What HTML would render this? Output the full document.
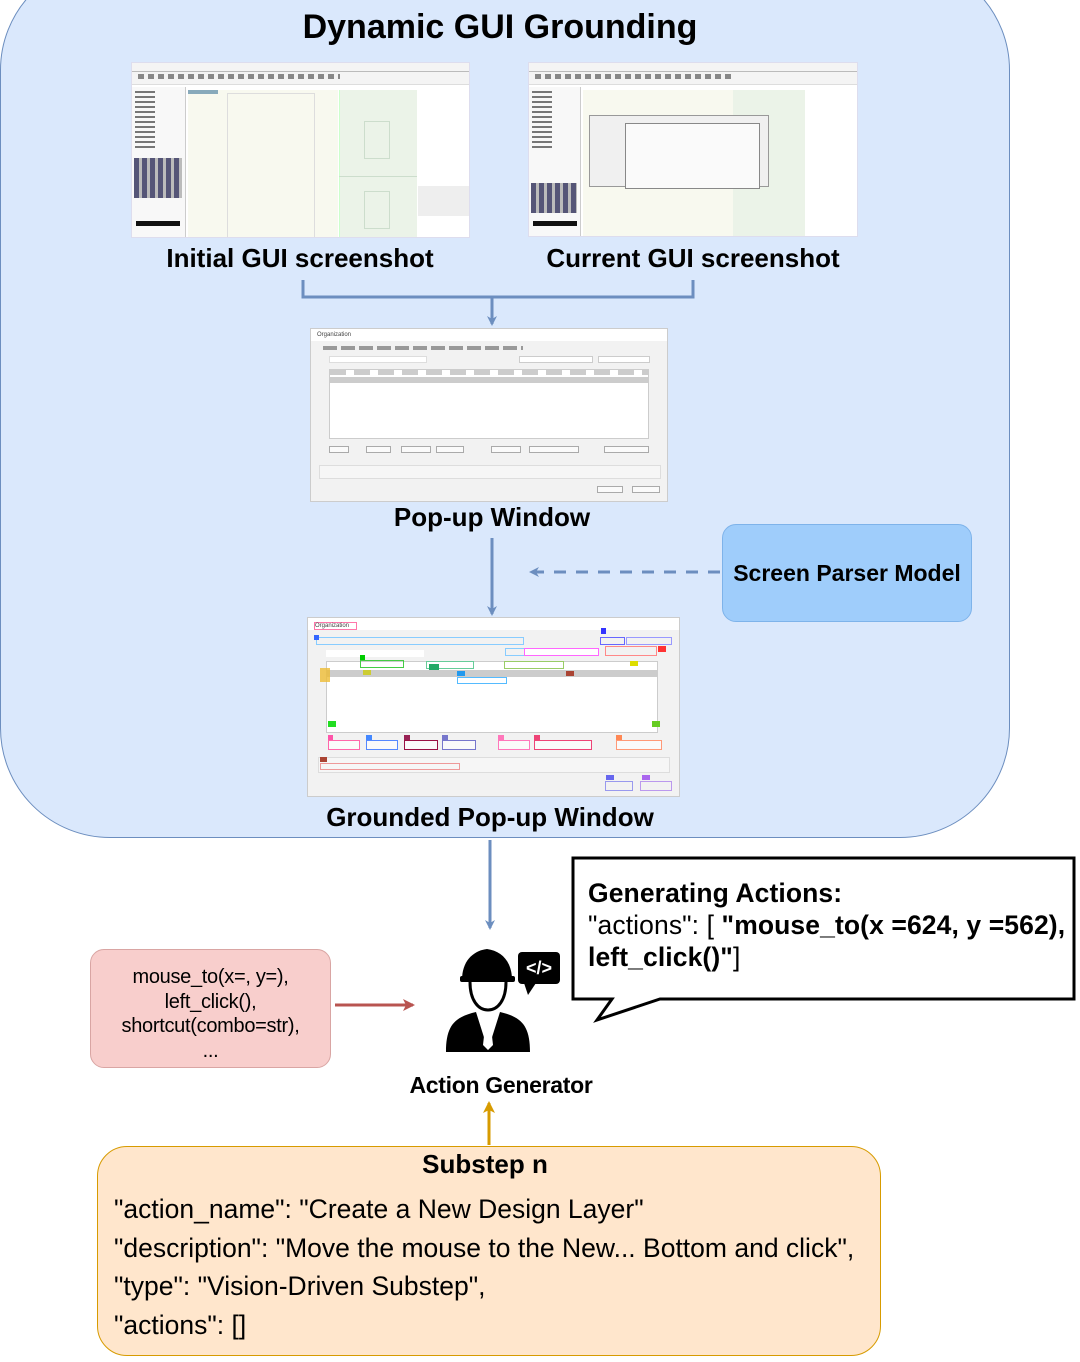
<!DOCTYPE html>
<html><head><meta charset="utf-8">
<style>
*{margin:0;padding:0;box-sizing:border-box}
body{width:1080px;height:1362px;background:#fff;position:relative;overflow:hidden;font-family:"Liberation Sans",Arial,sans-serif;color:#000}
.abs{position:absolute}
.lbl{position:absolute;font-weight:bold;white-space:nowrap;text-align:center;transform:translateX(-50%)}
.ss{position:absolute;background:#fff;overflow:hidden;border:1px solid #dde}
.ss div{position:absolute}
.pop{position:absolute;background:#f2f2f2;border:1px solid #ccc;overflow:hidden}
.pop div{position:absolute}
.btn{background:#fafafa;border:1px solid #aaa;height:7px}
</style></head><body>

<div class="abs" style="left:0;top:-40px;width:1010px;height:878px;background:#dae8fc;border:1px solid #6c8ebf;border-radius:110px"></div>

<div class="lbl" style="left:500px;top:8px;font-size:34px">Dynamic GUI Grounding</div>

<div class="ss" style="left:131px;top:62px;width:339px;height:176px">
  <div style="left:0;top:0;width:100%;height:22px;background:#f4f4f4;border-bottom:1px solid #ddd"></div>
  <div style="left:0;top:8px;width:100%;height:1px;background:#bbb"></div>
  <div style="left:6px;top:11px;width:60%;height:5px;background:repeating-linear-gradient(90deg,#888 0 6px,transparent 6px 10px)"></div>
  <div style="left:0;top:24px;width:54px;height:152px;background:#f8f8f8;border-right:1px solid #ccc"></div>
  <div style="left:3px;top:28px;width:20px;height:60px;background:repeating-linear-gradient(180deg,#777 0 2px,transparent 2px 5px)"></div>
  <div style="left:2px;top:95px;width:48px;height:40px;background:repeating-linear-gradient(90deg,#557 0 5px,#bbb 5px 8px)"></div>
  <div style="left:4px;top:158px;width:44px;height:5px;background:#111"></div>
  <div style="left:56px;top:27px;width:150px;height:149px;background:#f8f9ef"></div>
  <div style="left:56px;top:27px;width:30px;height:4px;background:#8ab"></div>
  <div style="left:95px;top:30px;width:88px;height:146px;border:1px solid #ddd"></div>
  <div style="left:207px;top:27px;width:78px;height:149px;background:#ebf3e8;border-left:1px solid #cfc"></div>
  <div style="left:207px;top:113px;width:78px;height:1px;background:#cdc"></div>
  <div style="left:232px;top:58px;width:26px;height:38px;border:1px solid #cdc"></div>
  <div style="left:232px;top:128px;width:26px;height:38px;border:1px solid #cdc"></div>
  <div style="left:286px;top:27px;width:53px;height:149px;background:#fff"></div>
  <div style="left:286px;top:123px;width:53px;height:30px;background:#eee"></div>
</div>

<div class="ss" style="left:528px;top:62px;width:330px;height:175px">
  <div style="left:0;top:0;width:100%;height:22px;background:#f4f4f4;border-bottom:1px solid #ddd"></div>
  <div style="left:0;top:8px;width:100%;height:1px;background:#bbb"></div>
  <div style="left:6px;top:11px;width:60%;height:5px;background:repeating-linear-gradient(90deg,#888 0 6px,transparent 6px 10px)"></div>
  <div style="left:0;top:24px;width:52px;height:151px;background:#f8f8f8;border-right:1px solid #ccc"></div>
  <div style="left:3px;top:28px;width:20px;height:60px;background:repeating-linear-gradient(180deg,#777 0 2px,transparent 2px 5px)"></div>
  <div style="left:2px;top:120px;width:46px;height:30px;background:repeating-linear-gradient(90deg,#557 0 5px,#bbb 5px 8px)"></div>
  <div style="left:4px;top:158px;width:44px;height:5px;background:#111"></div>
  <div style="left:54px;top:27px;width:150px;height:148px;background:#f8f9ef"></div>
  <div style="left:204px;top:27px;width:72px;height:148px;background:#ebf3e8"></div>
  <div style="left:276px;top:27px;width:54px;height:148px;background:#fff"></div>
  <div style="left:60px;top:52px;width:180px;height:72px;background:#f0f0f0;border:1px solid #999"></div>
  <div style="left:96px;top:60px;width:135px;height:66px;background:#fafafa;border:1px solid #888"></div>
</div>

<div class="lbl" style="left:300px;top:243px;font-size:26px">Initial GUI screenshot</div>
<div class="lbl" style="left:693px;top:243px;font-size:26px">Current GUI screenshot</div>

<svg class="abs" style="left:0;top:0" width="1080" height="1362">
  <defs>
    <marker id="ab" markerWidth="10" markerHeight="10" refX="8" refY="5" orient="auto" markerUnits="userSpaceOnUse"><path d="M0,0 L10,5 L0,10 L3,5z" fill="#6c8ebf"/></marker>
    <marker id="ar" markerWidth="12" markerHeight="12" refX="10" refY="6" orient="auto" markerUnits="userSpaceOnUse"><path d="M0,0 L12,6 L0,12 L3,6z" fill="#b85450"/></marker>
    <marker id="ao" markerWidth="12" markerHeight="12" refX="10" refY="6" orient="auto" markerUnits="userSpaceOnUse"><path d="M0,0 L12,6 L0,12 L3,6z" fill="#d79b00"/></marker>
  </defs>
  <g stroke="#6c8ebf" stroke-width="3" fill="none">
    <path d="M303,280 V297 H693 V280"/>
    <path d="M492,297 V324" marker-end="url(#ab)"/>
    <path d="M492,538 V614" marker-end="url(#ab)"/>
    <path d="M720,572 H531" stroke-dasharray="12,10" marker-end="url(#ab)"/>
    <path d="M490,840 V928" marker-end="url(#ab)"/>
  </g>
  <path d="M335,1005 H413" stroke="#b85450" stroke-width="3" marker-end="url(#ar)"/>
  <path d="M489,1145 V1103" stroke="#d79b00" stroke-width="3" marker-end="url(#ao)"/>
  <path d="M573,858 H1074 V999 H660 L597,1020 L612,999 H573 Z" fill="#fff" stroke="#000" stroke-width="3"/>
  <g fill="#000">
    <path d="M462,980 C462,962 472,951 487,949 C502,951 512,962 512,980 Z"/>
    <rect x="460" y="976" width="55" height="6" rx="2"/>
    <path d="M470,982 C470,1000 478,1010 488,1010 C498,1010 506,1000 506,982" fill="none" stroke="#000" stroke-width="3"/>
    <path d="M446,1052 C446,1025 455,1017 476,1012 L488,1050 L500,1012 C521,1017 530,1025 530,1052 Z"/>
    <path d="M484,1013 L492,1013 L490,1018 L493,1045 L488,1050 L483,1045 L486,1018 Z" fill="#fff"/>
    <rect x="518" y="952" width="42" height="32" rx="4"/>
    <path d="M524,983 L528,995 L536,983 Z"/>
  </g>
  <text x="539" y="974" fill="#fff" font-family="Liberation Sans" font-weight="bold" font-size="18" text-anchor="middle">&lt;/&gt;</text>
</svg>

<div class="pop" style="left:310px;top:328px;width:358px;height:174px">
  <div style="left:0;top:0;width:100%;height:12px;background:#fff"></div>
  <div style="left:6px;top:3px;font-size:6px;color:#444">Organization</div>
  <div style="left:12px;top:17px;width:200px;height:4px;background:repeating-linear-gradient(90deg,#999 0 14px,transparent 14px 18px)"></div>
  <div style="left:18px;top:27px;width:98px;height:7px;background:#fff;border:1px solid #ddd"></div>
  <div style="left:208px;top:27px;width:74px;height:7px;background:#fff;border:1px solid #ccc"></div>
  <div style="left:287px;top:27px;width:52px;height:7px;background:#fff;border:1px solid #ccc"></div>
  <div style="left:18px;top:40px;width:320px;height:70px;background:#fff;border:1px solid #ccc"></div>
  <div style="left:19px;top:48px;width:318px;height:6px;background:#ccc"></div>
  <div style="left:19px;top:41px;width:318px;height:5px;background:repeating-linear-gradient(90deg,#aaa 0 16px,transparent 16px 24px);opacity:.6"></div>
  <div style="left:18px;top:117px;width:20px;" class="btn"></div>
  <div style="left:55px;top:117px;width:25px;" class="btn"></div>
  <div style="left:90px;top:117px;width:30px;" class="btn"></div>
  <div style="left:125px;top:117px;width:28px;" class="btn"></div>
  <div style="left:180px;top:117px;width:30px;" class="btn"></div>
  <div style="left:218px;top:117px;width:50px;" class="btn"></div>
  <div style="left:293px;top:117px;width:45px;" class="btn"></div>
  <div style="left:8px;top:136px;width:342px;height:14px;border:1px solid #ddd;background:#f6f6f6"></div>
  <div style="left:286px;top:157px;width:26px;" class="btn"></div>
  <div style="left:321px;top:157px;width:28px;" class="btn"></div>
</div>
<div class="lbl" style="left:492px;top:502px;font-size:26px">Pop-up Window</div>

<div class="abs" style="left:722px;top:524px;width:250px;height:98px;background:#9fcdfb;border:1px solid #7eb3ea;border-radius:14px"></div>
<div class="lbl" style="left:847px;top:560px;font-size:23px">Screen Parser Model</div>

<div class="pop" style="left:307px;top:617px;width:373px;height:180px">
  <div style="left:0;top:0;width:100%;height:12px;background:#fff"></div>
  <div style="left:6px;top:4px;width:43px;height:8px;border:1px solid #f7a;font-size:6px;color:#444">Organization</div>
  <div style="left:8px;top:19px;width:208px;height:8px;border:1px solid #8cf"></div>
  <div style="left:6px;top:17px;width:5px;height:5px;background:#36f"></div>
  <div style="left:292px;top:19px;width:25px;height:8px;border:1px solid #66f"></div>
  <div style="left:293px;top:10px;width:5px;height:6px;background:#33f"></div>
  <div style="left:318px;top:19px;width:46px;height:8px;border:1px solid #99f"></div>
  <div style="left:18px;top:32px;width:98px;height:7px;background:#fff"></div>
  <div style="left:197px;top:30px;width:28px;height:8px;border:1px solid #8cf"></div>
  <div style="left:216px;top:30px;width:75px;height:8px;border:1px solid #f6f;background:#fff"></div>
  <div style="left:297px;top:28px;width:52px;height:10px;border:1px solid #f88"></div>
  <div style="left:350px;top:28px;width:8px;height:6px;background:#f33"></div>
  <div style="left:18px;top:43px;width:332px;height:72px;background:#fff;border:1px solid #ccc"></div>
  <div style="left:19px;top:52px;width:330px;height:7px;background:#ccc"></div>
  <div style="left:52px;top:42px;width:44px;height:8px;border:1px solid #4c4"></div>
  <div style="left:52px;top:37px;width:5px;height:5px;background:#0c0"></div>
  <div style="left:118px;top:43px;width:48px;height:8px;border:1px solid #6c9"></div>
  <div style="left:196px;top:43px;width:60px;height:8px;border:1px solid #9c6"></div>
  <div style="left:12px;top:50px;width:10px;height:14px;background:#eb3;opacity:.8"></div>
  <div style="left:55px;top:52px;width:8px;height:5px;background:#cc3"></div>
  <div style="left:121px;top:46px;width:10px;height:6px;background:#2a6"></div>
  <div style="left:149px;top:59px;width:50px;height:7px;border:1px solid #5bf"></div>
  <div style="left:149px;top:53px;width:8px;height:5px;background:#29e"></div>
  <div style="left:258px;top:53px;width:8px;height:5px;background:#a43"></div>
  <div style="left:322px;top:43px;width:8px;height:5px;background:#dd0"></div>
  <div style="left:20px;top:103px;width:8px;height:6px;background:#2d2"></div>
  <div style="left:344px;top:103px;width:8px;height:6px;background:#6c2"></div>
  <div style="left:20px;top:122px;width:32px;height:10px;border:1px solid #f6a;background:#fafafa"></div>
  <div style="left:58px;top:122px;width:32px;height:10px;border:1px solid #58f;background:#fafafa"></div>
  <div style="left:96px;top:122px;width:34px;height:10px;border:1px solid #914;background:#fafafa"></div>
  <div style="left:134px;top:122px;width:34px;height:10px;border:1px solid #77c;background:#fafafa"></div>
  <div style="left:190px;top:122px;width:32px;height:10px;border:1px solid #f7b;background:#fafafa"></div>
  <div style="left:226px;top:122px;width:58px;height:10px;border:1px solid #e47;background:#fafafa"></div>
  <div style="left:308px;top:122px;width:46px;height:10px;border:1px solid #f97;background:#fafafa"></div>
  <div style="left:20px;top:117px;width:5px;height:5px;background:#f5a"></div>
  <div style="left:58px;top:117px;width:6px;height:5px;background:#48f"></div>
  <div style="left:96px;top:117px;width:6px;height:5px;background:#925"></div>
  <div style="left:134px;top:117px;width:6px;height:5px;background:#77c"></div>
  <div style="left:190px;top:117px;width:6px;height:5px;background:#f7b"></div>
  <div style="left:226px;top:117px;width:6px;height:5px;background:#e47"></div>
  <div style="left:308px;top:117px;width:6px;height:5px;background:#f85"></div>
  <div style="left:10px;top:139px;width:352px;height:16px;background:#f6f6f6;border:1px solid #ddd"></div>
  <div style="left:12px;top:145px;width:140px;height:7px;border:1px solid #e99"></div>
  <div style="left:12px;top:139px;width:7px;height:5px;background:#a43"></div>
  <div style="left:297px;top:163px;width:28px;height:10px;border:1px solid #99e"></div>
  <div style="left:332px;top:163px;width:32px;height:10px;border:1px solid #b9e"></div>
  <div style="left:298px;top:157px;width:8px;height:5px;background:#66e"></div>
  <div style="left:334px;top:157px;width:8px;height:5px;background:#a6e"></div>
</div>
<div class="lbl" style="left:490px;top:802px;font-size:26px">Grounded Pop-up Window</div>

<div class="abs" style="left:588px;top:877px;font-size:26.5px;line-height:32px;white-space:nowrap;letter-spacing:0.1px">
<b>Generating Actions:</b><br>"actions": [ <b>"mouse_to(x =624, y =562),</b><br><b>left_click()"</b>]
</div>

<div class="abs" style="left:90px;top:949px;width:241px;height:119px;background:#f8cecc;border:1px solid #d9a5a3;border-radius:14px;font-size:20px;line-height:24.5px;text-align:center;padding-top:15px;letter-spacing:-0.3px">
mouse_to(x=, y=),<br>left_click(),<br>shortcut(combo=str),<br>...
</div>

<div class="lbl" style="left:501px;top:1072px;font-size:23px;letter-spacing:-0.3px">Action Generator</div>

<div class="abs" style="left:97px;top:1146px;width:784px;height:210px;background:#ffe6cc;border:1px solid #d79b00;border-radius:30px"></div>
<div class="lbl" style="left:485px;top:1149px;font-size:26px">Substep n</div>
<div class="abs" style="left:114px;top:1190px;font-size:26.5px;line-height:38.5px;white-space:nowrap;letter-spacing:0px">
"action_name": "Create a New Design Layer"<br>"description": "Move the mouse to the New... Bottom and click",<br>"type": "Vision-Driven Substep",<br>"actions": []
</div>

</body></html>
